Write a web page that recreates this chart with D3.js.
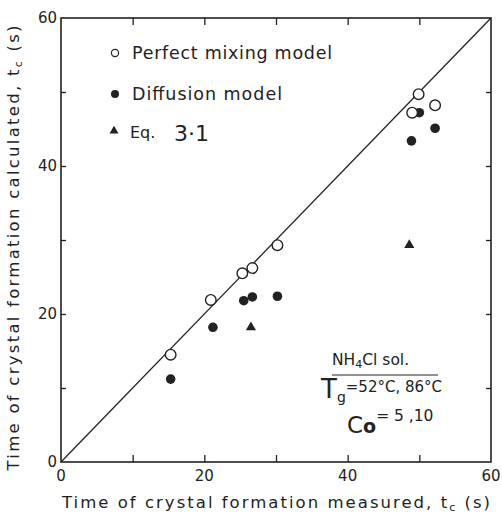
<!DOCTYPE html>
<html><head><meta charset="utf-8">
<script src="https://cdn.jsdelivr.net/npm/d3@7"></script>
<style>body{margin:0;background:#fff;} text{font-family:"DejaVu Sans",sans-serif;fill:#222;}</style>
</head><body>
<svg id="c" width="502" height="517"></svg>
<script>
const perfectX = [15.3, 20.9, 25.3, 26.7, 30.2, 49.9, 49.0, 52.2];
const perfectY = [14.5, 21.9, 25.5, 26.2, 29.3, 49.7, 47.2, 48.2];
const diffX = [15.3, 21.2, 25.5, 26.7, 30.2, 50.0, 48.9, 52.2];
const diffY = [11.2, 18.2, 21.8, 22.3, 22.4, 47.2, 43.4, 45.1];
const eqX = [26.5, 48.6];
const eqY = [18.2, 29.3];
const tickLabels = [0, 20, 40, 60];
const minorTicks = [10, 20, 30, 40, 50];

const svg = d3.select("#c");
const x = d3.scaleLinear().domain([0, 60]).range([61, 491]);
const y = d3.scaleLinear().domain([0, 60]).range([462, 18]);
const col = "#222";

// frame
svg.append("rect").attr("x", x(0)).attr("y", y(60)).attr("width", x(60) - x(0)).attr("height", y(0) - y(60))
  .attr("fill", "none").attr("stroke", col).attr("stroke-width", 1.6);

// axes with inward ticks
const bx = svg.append("g").attr("transform", `translate(0,${y(0)})`)
  .call(d3.axisTop(x).tickValues(minorTicks).tickSize(7).tickFormat(""));
const tx = svg.append("g").attr("transform", `translate(0,${y(60)})`)
  .call(d3.axisBottom(x).tickValues(minorTicks).tickSize(7).tickFormat(""));
const ly = svg.append("g").attr("transform", `translate(${x(0)},0)`)
  .call(d3.axisRight(y).tickValues(minorTicks).tickSize(5).tickFormat(""));
const ry = svg.append("g").attr("transform", `translate(${x(60)},0)`)
  .call(d3.axisLeft(y).tickValues(minorTicks).tickSize(5).tickFormat(""));
[bx, tx, ly, ry].forEach(g => { g.select(".domain").remove(); g.selectAll("line").attr("stroke", col).attr("stroke-width", 1.3); });

// tick labels
svg.append("g").selectAll("text").data(tickLabels).join("text")
  .attr("x", d => x(d)).attr("y", y(0) + 19).attr("text-anchor", "middle")
  .attr("font-size", 15).text(d => d);
svg.append("g").selectAll("text").data(tickLabels).join("text")
  .attr("x", x(0) - 4).attr("y", d => y(d) + 5).attr("text-anchor", "end")
  .attr("font-size", 15).text(d => d);

// axis titles
const xt = svg.append("text").attr("x", 276).attr("y", 508).attr("text-anchor", "middle").attr("font-size", 16.5)
  .attr("textLength", 428).attr("lengthAdjust", "spacing");
xt.append("tspan").text("Time of crystal formation measured, t");
xt.append("tspan").attr("font-size", 11).attr("dy", 3).text("c");
xt.append("tspan").attr("dy", -3).text(" (s)");
const yt = svg.append("text").attr("transform", "translate(19,248) rotate(-90)").attr("text-anchor", "middle").attr("font-size", 16.5)
  .attr("textLength", 445).attr("lengthAdjust", "spacing");
yt.append("tspan").text("Time of crystal formation calculated, t");
yt.append("tspan").attr("font-size", 11).attr("dy", 3).text("c");
yt.append("tspan").attr("dy", -3).text(" (s)");

// diagonal
svg.append("line").attr("x1", x(0)).attr("y1", y(0)).attr("x2", x(60)).attr("y2", y(60))
  .attr("stroke", col).attr("stroke-width", 1.3);

// points
const perfect = perfectX.map((v, i) => [v, perfectY[i]]);
const diff = diffX.map((v, i) => [v, diffY[i]]);
const eq = eqX.map((v, i) => [v, eqY[i]]);
svg.append("g").selectAll("circle").data(diff).join("circle")
  .attr("cx", d => x(d[0])).attr("cy", d => y(d[1])).attr("r", 4.8).attr("fill", col);
svg.append("g").selectAll("circle").data(perfect).join("circle")
  .attr("cx", d => x(d[0])).attr("cy", d => y(d[1])).attr("r", 5.3).attr("fill", "#fff").attr("stroke", col).attr("stroke-width", 1.4);
const tri = d3.symbol().type(d3.symbolTriangle).size(45);
svg.append("g").selectAll("path").data(eq).join("path")
  .attr("transform", d => `translate(${x(d[0])},${y(d[1])})`).attr("d", tri).attr("fill", col);

// legend
svg.append("circle").attr("cx", 115).attr("cy", 53).attr("r", 3.6).attr("fill", "none").attr("stroke", col).attr("stroke-width", 1.2);
svg.append("text").attr("x", 132).attr("y", 59).attr("font-size", 17.5).attr("textLength", 200).attr("lengthAdjust", "spacing").text("Perfect  mixing  model");
svg.append("circle").attr("cx", 115).attr("cy", 94).attr("r", 4).attr("fill", col);
svg.append("text").attr("x", 132).attr("y", 100).attr("font-size", 17.5).attr("textLength", 150).attr("lengthAdjust", "spacing").text("Diffusion  model");
svg.append("path").attr("transform", "translate(114,131)").attr("d", d3.symbol().type(d3.symbolTriangle).size(35)).attr("fill", col);
svg.append("text").attr("x", 130).attr("y", 138).attr("font-size", 16).text("Eq.");
svg.append("text").attr("x", 174).attr("y", 141).attr("font-size", 22).attr("font-family", "Liberation Sans").text("3·1");

// annotation
const nh = svg.append("text").attr("x", 332).attr("y", 365).attr("font-size", 15.5);
nh.append("tspan").text("NH");
nh.append("tspan").attr("font-size", 11).attr("dy", 3).text("4");
nh.append("tspan").attr("dy", -3).text("Cl  sol.");
svg.append("line").attr("x1", 332).attr("x2", 438).attr("y1", 375).attr("y2", 375).attr("stroke", col).attr("stroke-width", 1);
const tg = svg.append("text").attr("x", 321).attr("y", 398).attr("font-size", 15);
tg.append("tspan").attr("font-size", 26).text("T");
tg.append("tspan").attr("font-size", 14).attr("dy", 4).text("g");
tg.append("tspan").attr("dy", -10).text("=52°C, 86°C");
const co = svg.append("text").attr("x", 347).attr("y", 433).attr("font-size", 15.5);
co.append("tspan").attr("font-size", 23).text("C");
co.append("tspan").attr("font-size", 19).attr("font-weight", "bold").text("o");
co.append("tspan").attr("dy", -12).text("= 5 ,10");
</script>
</body></html>
